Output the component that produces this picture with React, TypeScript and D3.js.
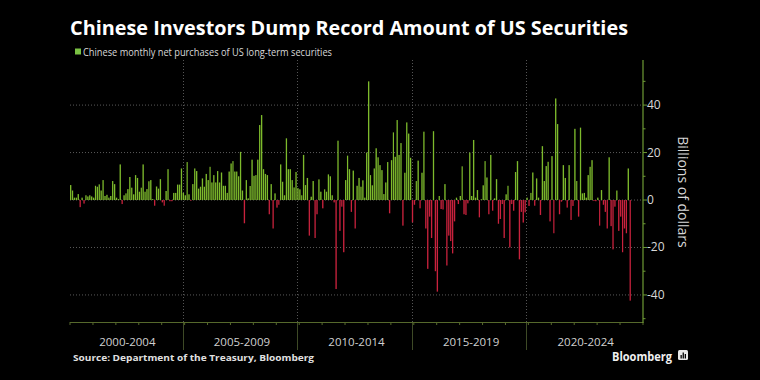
import React from "react";
import * as d3 from "d3";

// Monthly net purchases (billions of USD), Jan of first year onward
const values2000_2004 = [
  6.3, 4, 1, 1, 2.5, -3, 1, -1.5, 2, 1.5, 2, 1.5,
  1, 6, 5.6, 6.6, 4, 8.4, 1.7, 2.2, 1, 1.7, 8, 6.7,
  1, 0.4, 15, -1.7, 2, 2.8, 4.6, 9.7, 5.2, 2.4, 10.5, 9.3,
  3.5, 5.2, 15, 3.5, 4.6, 7.9, 8.4, 0.4, -2.4, 5.7, 4.8, 8.8,
  -1, -2.4, 3.8, 13, -0.5, -0.5, 3, 3, 6.5, 6.5, 13.3, 3,
];
const values2005_2009 = [
  2, 16, 2.4, -0.3, 6.7, 13.3, 12.2, 4.8, 5.6, 9.1, 5.6, 11,
  8.4, 14, 7.4, 10.5, 7.4, 12.2, 7.4, 11.6, 6, 6, 3, 12,
  15.4, 16.4, 12, 12, 10, 20.3, 4, -9.8, 8.4, 0.7, 5.9, 17,
  10.2, 10.5, 17, 31.6, 35.8, 13, 11, 10.5, -6, 6.7, -12, 2.8,
  -3.2, -2, 15, 7.7, 2, 26, 13, 13, 8.4, 5.3, 11.8, 5,
];
const values2010_2014 = [
  4.5, 2, 19, 6.3, 9.3, -15, 1.4, 8, -16, -6, 8.7, 3.5,
  -3.5, 4.5, 3.5, 10.8, 10, 2, -1, -37.5, 25, -13, -2.8, -22,
  8.4, 18.7, 13, -5, 12.4, -12, 6, 9.3, 5.6, 8.3, 1, 20,
  50, 10.5, 6.2, 13.3, 21.8, 18, 14.7, 12.6, 2.5, 7.4, 16, -5.6,
  16.8, 28.5, 18.2, 33.7, 19, 24, -10.8, 11.5, 32.7, 28, 17.8, -9.4,
];
const values2015_2019 = [
  -2, 8, 16.6, -3.5, 11.5, 28.8, -12, -29, -7, -16, 29, -30,
  -38.6, 1.7, -3.8, -4, 6.7, -27.6, -15, -17.3, -22.5, -9, 1, -1.7,
  1.7, 14.2, -6, -6.3, -1.4, 20, 1.7, 25.3, 1, 4.2, -7.3, 0.3,
  6.2, 16.4, 9.5, -6, 19, -4.5, 0.7, 8.8, -10, -8, -1.7, -16,
  2.4, 6, -20, -1.7, -4.5, 11.8, 16.4, -25, -5, -9.5, -5.2, 1,
];
const values2020_2024 = [
  -2.5, 3, 11.6, -2.4, 9.1, 1, -6.3, 22.7, 8, 14.3, 16.1, -9,
  18.5, -14, 42.8, 32, -6, -0.7, 14.7, 9.3, -3.2, 14.7, -8.4, -2.5,
  30, 8, -7, 30.5, 2.8, 3, 1, 10.5, 14, 16.8, -0.4, -0.5,
  1, -10.8, 4.2, -2, -5, -12, 18, -11, -20.8, -2.8, 4, -13,
  -7, -22, -12, -14, 13.3, -42.4,
];

const periodLabels = ["2000-2004", "2005-2009", "2010-2014", "2015-2019", "2020-2024"];
const periodStarts = [2000, 2005, 2010, 2015, 2020];
const yTicksMajor = [-40, -20, 0, 20, 40];
const yTicksMinor = [-50, -30, -10, 10, 30, 50];

const title = "Chinese Investors Dump Record Amount of US Securities";
const legendLabel = "Chinese monthly net purchases of US long-term securities";
const axisTitle = "Billions of dollars";
const source = "Source: Department of the Treasury, Bloomberg";

const allValues = [
  ...values2000_2004,
  ...values2005_2009,
  ...values2010_2014,
  ...values2015_2019,
  ...values2020_2024,
];
const data = allValues.map((v, i) => ({
  date: new Date(2000, i, 1),
  next: new Date(2000, i + 1, 1),
  value: v,
}));

const W = 760;
const H = 380;
const left = 70;
const right = 643;
const top = 60;
const bottom = 322;

export default function App() {
  const x = d3.scaleTime().domain([new Date(2000, 0, 1), new Date(2025, 0, 1)]).range([left, right]);
  const y = d3.scaleLinear().domain([-51.4, 59]).range([bottom, top]);
  const years = d3.range(2000, 2026);
  const green = "#7dba2c";
  const red = "#c9223d";
  const font = "'Open Sans', 'Noto Sans', sans-serif";

  return (
    <svg
      width={W}
      height={H}
      style={{ position: "fixed", left: 0, top: 0, background: "#000" }}
      fontFamily={font}
    >
      <rect x={0} y={0} width={W} height={H} fill="#000" />
      <text x={70} y={35} fill="#fff" fontSize={19} fontWeight={700} textLength={558} lengthAdjust="spacingAndGlyphs">
        {title}
      </text>
      <rect x={75} y={48.5} width={6} height={6} fill="#7ac143" />
      <text x={83} y={55.5} fill="#d8d8d8" fontSize={10} textLength={249} lengthAdjust="spacingAndGlyphs">
        {legendLabel}
      </text>

      {/* horizontal gridlines */}
      {yTicksMajor.map((t) => (
        <line key={"g" + t} x1={left} x2={right} y1={y(t)} y2={y(t)} stroke="#5a5a5a" strokeDasharray="1,2" />
      ))}
      {/* vertical dividers */}
      {periodStarts.slice(1).map((yr) => {
        const px = Math.round(x(new Date(yr, 0, 1))) - 1.5;
        return (
          <g key={"v" + yr}>
            <line x1={px} x2={px} y1={top} y2={bottom} stroke="#555" strokeDasharray="1,2" />
            <line x1={px} x2={px} y1={bottom} y2={350} stroke="#3e4a26" />
          </g>
        );
      })}

      {/* bars */}
      {data.map((d, i) => {
        const x0 = x(d.date);
        const w = x(d.next) - x0 - 0.6;
        const y0 = y(Math.max(0, d.value));
        const h = Math.abs(y(d.value) - y(0));
        return <rect key={i} x={x0} y={y0} width={w} height={Math.max(h, 0.5)} fill={d.value >= 0 ? green : red} />;
      })}

      {/* bottom axis */}
      <line x1={left} x2={right} y1={bottom + 0.5} y2={bottom + 0.5} stroke="#56692c" strokeWidth={1.2} />
      {years.map((yr) => {
        const px = x(new Date(yr, 0, 1));
        return <line key={"t" + yr} x1={px} x2={px} y1={bottom} y2={bottom + 3} stroke="#56692c" />;
      })}
      {periodLabels.map((lab, i) => {
        const a = x(new Date(periodStarts[i], 0, 1));
        const b = x(new Date(periodStarts[i] + 5, 0, 1));
        return (
          <text key={lab} x={(a + b) / 2} y={346} fill="#d0d0d0" fontSize={11.5} textAnchor="middle">
            {lab}
          </text>
        );
      })}

      {/* right axis */}
      <line x1={right} x2={right} y1={top} y2={bottom + 1} stroke="#6e9b34" strokeWidth={1.2} />
      {yTicksMajor.map((t) => (
        <g key={"m" + t}>
          <line x1={right} x2={right + 4} y1={y(t)} y2={y(t)} stroke="#6e9b34" />
          <text x={right + 4} y={y(t) + 4} fill="#d8d8d8" fontSize={12}>
            {t}
          </text>
        </g>
      ))}
      {yTicksMinor.map((t) => (
        <line key={"n" + t} x1={right} x2={right + 2.5} y1={y(t)} y2={y(t)} stroke="#6e9b34" />
      ))}
      <text
        transform={`translate(678, 192) rotate(90)`}
        fill="#d8d8d8"
        fontSize={14}
        textAnchor="middle"
      >
        {axisTitle}
      </text>

      {/* footer */}
      <text x={73} y={361} fill="#e0e0e0" fontSize={9.5} fontWeight={700} textLength={241} lengthAdjust="spacingAndGlyphs">
        {source}
      </text>
      <text x={612} y={361} fill="#f0f0f0" fontSize={12.5} fontWeight={700} textLength={60} lengthAdjust="spacingAndGlyphs">
        Bloomberg
      </text>
      <rect x={678} y={350} width={10} height={10} rx={1.5} fill="#e8e8e8" />
      <rect x={680.5} y={355} width={1.3} height={3.5} fill="#000" />
      <rect x={682.6} y={352.5} width={1.3} height={6} fill="#000" />
      <rect x={684.7} y={354} width={1.3} height={4.5} fill="#000" />
    </svg>
  );
}
